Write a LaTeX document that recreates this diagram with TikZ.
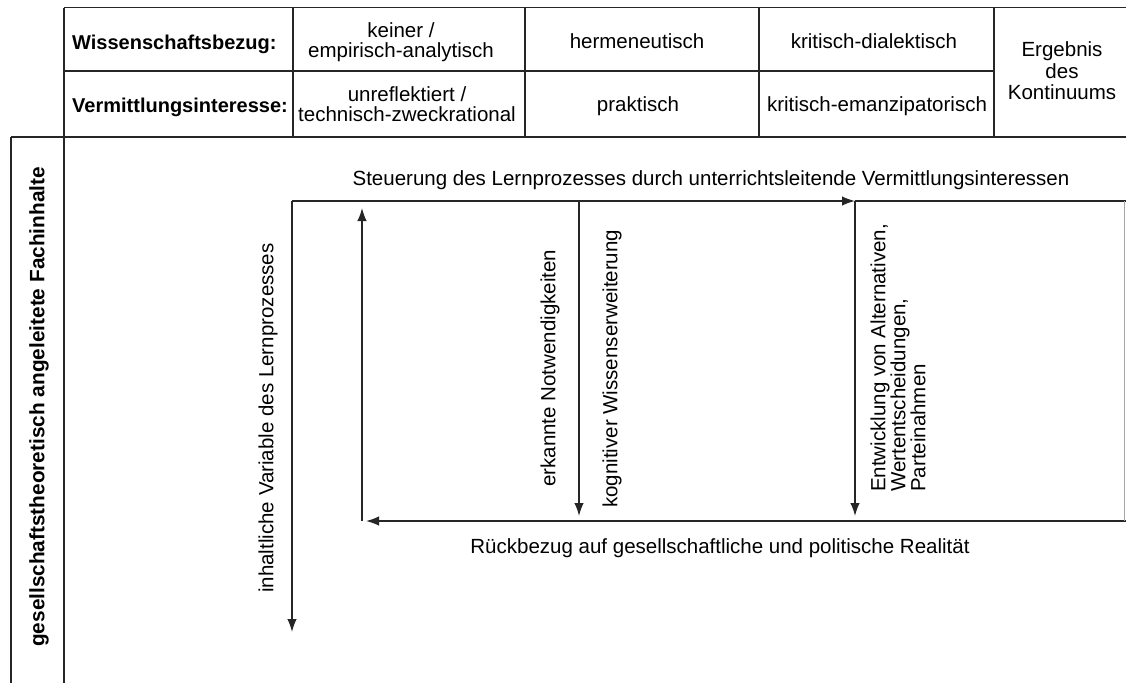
\documentclass[tikz,border=0pt]{standalone}
\usepackage{fontspec}
\setmainfont{Liberation Sans}
\usetikzlibrary{arrows.meta}
\begin{document}
\begin{tikzpicture}[x=1pt,y=-1pt,
  frame/.style={line width=1.6pt, draw=black!85},
  conn/.style={line width=1.5pt, draw=black!85},
  arr/.style={conn,-{Latex[length=13pt,width=9.5pt]}},
  txt/.style={inner sep=0pt, text=black, font=\fontsize{20.5}{20}\selectfont},
  btxt/.style={inner sep=0pt, text=black, font=\fontsize{20}{20}\selectfont\bfseries},
  ergtxt/.style={inner sep=0pt, text=black, font=\fontsize{20.5}{21.5}\selectfont}
]
\useasboundingbox (0,0) rectangle (1126,683);

% table grid
\draw[frame] (64,7.5) -- (1126,7.5);
\draw[frame] (64,71) -- (994,71);
\draw[frame] (11,137) -- (1126,137);
\draw[frame] (64,7.5) -- (64,683);
\draw[frame] (11,137) -- (11,683);
\draw[frame] (293,7.5) -- (293,137);
\draw[frame] (525,7.5) -- (525,137);
\draw[frame] (759,7.5) -- (759,137);
\draw[frame] (994,7.5) -- (994,137);

% table texts
\node[btxt, anchor=base west] (wb) at (72,49) {Wissenschaftsbezug:};
\node[btxt, anchor=base west] (vi) at (72,112) {Vermittlungsinteresse:};
\node[txt, align=center] (c11) at (401,42) {keiner /\\empirisch-analytisch};
\node[txt, align=center] (c21) at (407,104.5) {unreflektiert /\\technisch-zweckrational};
\node[txt, anchor=base] (c12) at (637,48) {hermeneutisch};
\node[txt, anchor=base] (c22) at (638,111) {praktisch};
\node[txt, anchor=base] (c13) at (874,48) {kritisch-dialektisch};
\node[txt, anchor=base] (c23) at (877,111) {kritisch-emanzipatorisch};
\node[ergtxt, align=center] (erg) at (1062,71) {Ergebnis\\des\\Kontinuums};

% lower texts
\node[txt, anchor=base] (steu) at (711,185) {Steuerung des Lernprozesses durch unterrichtsleitende Vermittlungsinteressen};
\node[txt, anchor=base] (rueck) at (720,553) {Rückbezug auf gesellschaftliche und politische Realität};
\node[btxt, font=\fontsize{20.8}{20}\selectfont\bfseries, rotate=90, anchor=west] (ges) at (39,647) {gesellschaftstheoretisch angeleitete Fachinhalte};
\node[txt, rotate=90, anchor=west] (inh) at (268,593) {inhaltliche Variable des Lernprozesses};
\node[txt, rotate=90, anchor=west] (erk) at (550,487) {erkannte Notwendigkeiten};
\node[txt, rotate=90, anchor=west] (kog) at (612,508) {kognitiver Wissenserweiterung};
\node[txt, rotate=90, anchor=west, align=left] (ent) at (898,492) {Entwicklung von Alternativen,\\Wertentscheidungen,\\Parteinahmen};

% connector coordinates
\coordinate (TL) at (292,201);
\coordinate (TA) at (855,201);
\coordinate (TR) at (1126,201);
\coordinate (LB) at (292,632);
\coordinate (UB) at (362,521);
\coordinate (UT) at (362,208);
\coordinate (BR) at (1126,521);
\coordinate (BL) at (366,521);
\coordinate (MT) at (579,201);
\coordinate (MB) at (579,516);
\coordinate (RB) at (855,516);
\coordinate (RFT) at (1124,201);
\coordinate (RFB) at (1124,521);

% connectors
\draw[arr] (TL) -- (TA);
\draw[conn] (TA) -- (TR);
\draw[arr] (TL) -- (LB);
\draw[arr] (UB) -- (UT);
\draw[arr] (BR) -- (BL);
\draw[arr] (MT) -- (MB);
\draw[arr] (TA) -- (RB);
\draw[line width=0.8pt, draw=black!35] (RFT) -- (RFB);
\end{tikzpicture}
\end{document}
